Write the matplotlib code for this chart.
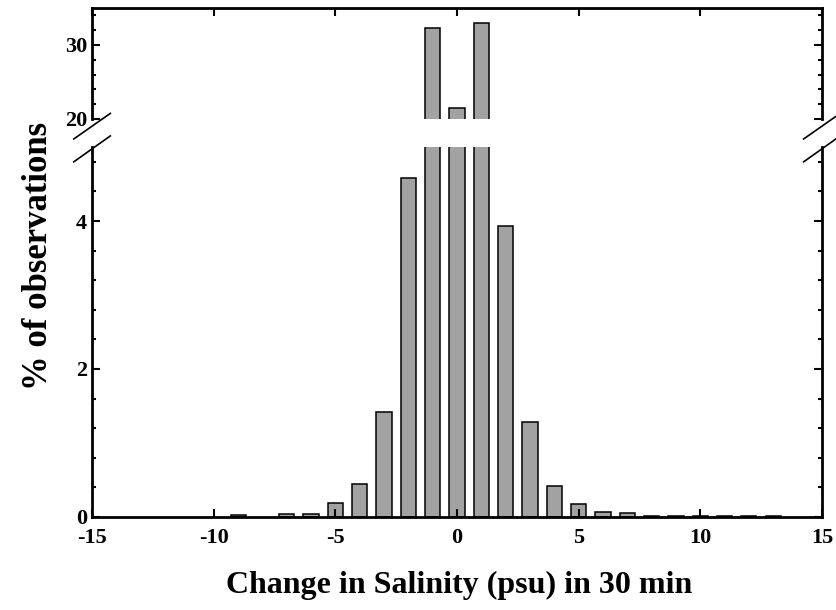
import matplotlib.pyplot as plt
from matplotlib.ticker import MultipleLocator

plt.rcParams['font.family'] = ['Liberation Serif', 'DejaVu Serif']
plt.rcParams['font.weight'] = 'bold'
plt.rcParams['axes.unicode_minus'] = False

salinity_change = [-9, -7, -6, -5, -4, -3, -2, -1, 0, 1, 2, 3, 4, 5, 6, 7, 8, 9, 10, 11, 12, 13]
pct_obs = [0.02, 0.04, 0.04, 0.19, 0.45, 1.42, 4.58, 32.3, 21.5, 33.0, 3.93, 1.29, 0.42, 0.18,
           0.07, 0.05, 0.01, 0.01, 0.01, 0.01, 0.01, 0.01]

fig = plt.figure(figsize=(8.37, 6.10), dpi=100)
ax_top = fig.add_axes([0.110, 0.805, 0.872, 0.182])
ax_bot = fig.add_axes([0.110, 0.1525, 0.872, 0.6065])

for ax in (ax_top, ax_bot):
    ax.bar(salinity_change, pct_obs, width=0.62, color='#a2a2a2', edgecolor='black', linewidth=1.1)
    ax.set_xlim(-15, 15)
    for s in ax.spines.values():
        s.set_linewidth(2)
    ax.tick_params(which='both', direction='in', right=True, top=True, labelsize=16, width=1.5)
    ax.tick_params(which='major', length=6)
    ax.tick_params(which='minor', length=3)

ax_top.set_ylim(20, 35)
ax_top.set_yticks([20, 30])
ax_top.yaxis.set_minor_locator(MultipleLocator(2))
ax_top.spines['bottom'].set_visible(False)
ax_top.tick_params(axis='x', which='both', bottom=False, labelbottom=False)

ax_bot.set_ylim(0, 5)
ax_bot.set_yticks([0, 2, 4])
ax_bot.yaxis.set_minor_locator(MultipleLocator(0.4))
ax_bot.spines['top'].set_visible(False)
ax_bot.tick_params(axis='x', which='both', top=False)
ax_bot.set_xticks(range(-15, 16, 5))
ax_bot.tick_params(axis='x', pad=8)

# break marks
kw = dict(color='black', linewidth=1.2, clip_on=False)
d = 0.025
for xpos in (0, 1):
    ax_top.plot([xpos - d, xpos + d], [-0.18, 0.05], transform=ax_top.transAxes, **kw)
    ax_bot.plot([xpos - d, xpos + d], [0.96, 1.03], transform=ax_bot.transAxes, **kw)

fig.text(0.548, 0.028, 'Change in Salinity (psu) in 30 min', ha='center', fontsize=23, fontweight='bold')
fig.text(0.026, 0.58, '% of observations', va='center', rotation=90, fontsize=25, fontweight='bold')

fig.savefig('out.png', dpi=100)
